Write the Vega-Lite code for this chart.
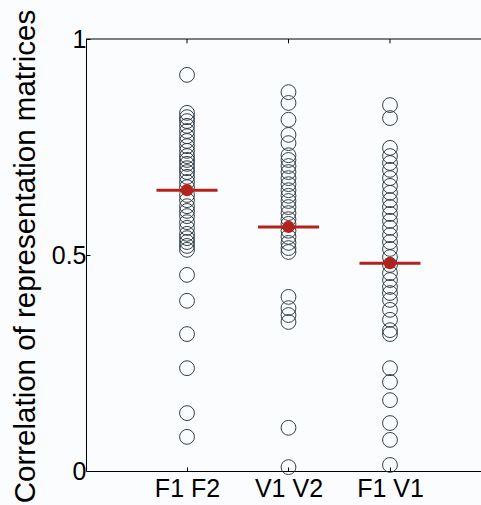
{
  "$schema": "https://vega.github.io/schema/vega-lite/v6.json",
  "width": 395,
  "height": 432,
  "autosize": "none",
  "padding": {"left": 86, "top": 39, "right": 0, "bottom": 34},
  "background": "#fbfcfd",
  "config": {"view": {"stroke": null}, "font": "Liberation Sans"},
  "datasets": {
    "subjects": [
      {"pair": "F1 F2", "r": 0.917}, {"pair": "F1 F2", "r": 0.829}, {"pair": "F1 F2", "r": 0.819}, {"pair": "F1 F2", "r": 0.810},
      {"pair": "F1 F2", "r": 0.799}, {"pair": "F1 F2", "r": 0.787}, {"pair": "F1 F2", "r": 0.775}, {"pair": "F1 F2", "r": 0.764},
      {"pair": "F1 F2", "r": 0.752}, {"pair": "F1 F2", "r": 0.741}, {"pair": "F1 F2", "r": 0.729}, {"pair": "F1 F2", "r": 0.720},
      {"pair": "F1 F2", "r": 0.711}, {"pair": "F1 F2", "r": 0.701}, {"pair": "F1 F2", "r": 0.692}, {"pair": "F1 F2", "r": 0.681},
      {"pair": "F1 F2", "r": 0.669}, {"pair": "F1 F2", "r": 0.657}, {"pair": "F1 F2", "r": 0.639}, {"pair": "F1 F2", "r": 0.627},
      {"pair": "F1 F2", "r": 0.613}, {"pair": "F1 F2", "r": 0.602}, {"pair": "F1 F2", "r": 0.590}, {"pair": "F1 F2", "r": 0.576},
      {"pair": "F1 F2", "r": 0.563}, {"pair": "F1 F2", "r": 0.549}, {"pair": "F1 F2", "r": 0.539}, {"pair": "F1 F2", "r": 0.530},
      {"pair": "F1 F2", "r": 0.521}, {"pair": "F1 F2", "r": 0.512}, {"pair": "F1 F2", "r": 0.454}, {"pair": "F1 F2", "r": 0.394},
      {"pair": "F1 F2", "r": 0.317}, {"pair": "F1 F2", "r": 0.238}, {"pair": "F1 F2", "r": 0.134}, {"pair": "F1 F2", "r": 0.079},
      {"pair": "V1 V2", "r": 0.877}, {"pair": "V1 V2", "r": 0.852}, {"pair": "V1 V2", "r": 0.813}, {"pair": "V1 V2", "r": 0.778},
      {"pair": "V1 V2", "r": 0.759}, {"pair": "V1 V2", "r": 0.731}, {"pair": "V1 V2", "r": 0.720}, {"pair": "V1 V2", "r": 0.706},
      {"pair": "V1 V2", "r": 0.692}, {"pair": "V1 V2", "r": 0.678}, {"pair": "V1 V2", "r": 0.664}, {"pair": "V1 V2", "r": 0.650},
      {"pair": "V1 V2", "r": 0.637}, {"pair": "V1 V2", "r": 0.625}, {"pair": "V1 V2", "r": 0.611}, {"pair": "V1 V2", "r": 0.597},
      {"pair": "V1 V2", "r": 0.583}, {"pair": "V1 V2", "r": 0.572}, {"pair": "V1 V2", "r": 0.556}, {"pair": "V1 V2", "r": 0.542},
      {"pair": "V1 V2", "r": 0.528}, {"pair": "V1 V2", "r": 0.516}, {"pair": "V1 V2", "r": 0.507}, {"pair": "V1 V2", "r": 0.403},
      {"pair": "V1 V2", "r": 0.377}, {"pair": "V1 V2", "r": 0.361}, {"pair": "V1 V2", "r": 0.345}, {"pair": "V1 V2", "r": 0.100},
      {"pair": "V1 V2", "r": 0.009},
      {"pair": "F1 V1", "r": 0.847}, {"pair": "F1 V1", "r": 0.817}, {"pair": "F1 V1", "r": 0.748}, {"pair": "F1 V1", "r": 0.729},
      {"pair": "F1 V1", "r": 0.713}, {"pair": "F1 V1", "r": 0.697}, {"pair": "F1 V1", "r": 0.678}, {"pair": "F1 V1", "r": 0.660},
      {"pair": "F1 V1", "r": 0.644}, {"pair": "F1 V1", "r": 0.627}, {"pair": "F1 V1", "r": 0.611}, {"pair": "F1 V1", "r": 0.595},
      {"pair": "F1 V1", "r": 0.579}, {"pair": "F1 V1", "r": 0.563}, {"pair": "F1 V1", "r": 0.546}, {"pair": "F1 V1", "r": 0.530},
      {"pair": "F1 V1", "r": 0.514}, {"pair": "F1 V1", "r": 0.495}, {"pair": "F1 V1", "r": 0.477}, {"pair": "F1 V1", "r": 0.458},
      {"pair": "F1 V1", "r": 0.442}, {"pair": "F1 V1", "r": 0.426}, {"pair": "F1 V1", "r": 0.412}, {"pair": "F1 V1", "r": 0.396},
      {"pair": "F1 V1", "r": 0.373}, {"pair": "F1 V1", "r": 0.350}, {"pair": "F1 V1", "r": 0.326}, {"pair": "F1 V1", "r": 0.317},
      {"pair": "F1 V1", "r": 0.238}, {"pair": "F1 V1", "r": 0.206}, {"pair": "F1 V1", "r": 0.164}, {"pair": "F1 V1", "r": 0.111},
      {"pair": "F1 V1", "r": 0.072}, {"pair": "F1 V1", "r": 0.014}
    ],
    "means": [
      {"pair": "F1 F2", "r": 0.650},
      {"pair": "V1 V2", "r": 0.565},
      {"pair": "F1 V1", "r": 0.481}
    ]
  },
  "layer": [
    {
      "data": {"name": "subjects"},
      "mark": {"type": "point", "shape": "circle", "filled": false, "size": 220, "stroke": "#2a3840", "strokeWidth": 1, "opacity": 0.95},
      "encoding": {
        "x": {
          "field": "pair", "type": "nominal", "sort": ["F1 F2", "V1 V2", "F1 V1"],
          "scale": {"type": "point", "padding": 0.946, "align": 0.526},
          "axis": {"title": null, "labelAngle": 0, "labelFontSize": 25, "labelColor": "black", "labelPadding": 9,
                   "domainColor": "black", "domainWidth": 1, "tickColor": "black", "tickSize": -4, "grid": false}
        },
        "y": {
          "field": "r", "type": "quantitative",
          "scale": {"domain": [0, 1], "nice": false, "zero": false},
          "axis": {"title": "Correlation of representation matrices", "values": [0, 0.5, 1],
                   "labelExpr": "'' + datum.value", "labelFontSize": 25, "labelColor": "black", "labelPadding": 4,
                   "domainColor": "black", "domainWidth": 1, "tickColor": "black", "tickSize": -4, "grid": false,
                   "titleFontSize": 29.5, "titleFontWeight": "normal", "titleColor": "black", "titlePadding": 11, "titleY": 217}
        }
      }
    },
    {
      "data": {"name": "means"},
      "mark": {"type": "tick", "orient": "horizontal", "color": "#b3231d", "size": 61, "thickness": 3, "opacity": 1},
      "encoding": {
        "x": {"field": "pair", "type": "nominal", "sort": ["F1 F2", "V1 V2", "F1 V1"]},
        "y": {"field": "r", "type": "quantitative"}
      }
    },
    {
      "data": {"name": "means"},
      "mark": {"type": "circle", "size": 150, "color": "#b3231d", "opacity": 1},
      "encoding": {
        "x": {"field": "pair", "type": "nominal", "sort": ["F1 F2", "V1 V2", "F1 V1"]},
        "y": {"field": "r", "type": "quantitative"}
      }
    },
    {
      "data": {"name": "means"},
      "mark": {"type": "rule", "color": "black", "strokeWidth": 1},
      "encoding": {
        "x": {"field": "pair", "type": "nominal", "sort": ["F1 F2", "V1 V2", "F1 V1"]},
        "y": {"datum": 1},
        "y2": {"datum": 0.99}
      }
    },
    {
      "data": {"values": [{}]},
      "mark": {"type": "rule", "color": "black", "strokeWidth": 1},
      "encoding": {"y": {"datum": 1}}
    }
  ]
}
